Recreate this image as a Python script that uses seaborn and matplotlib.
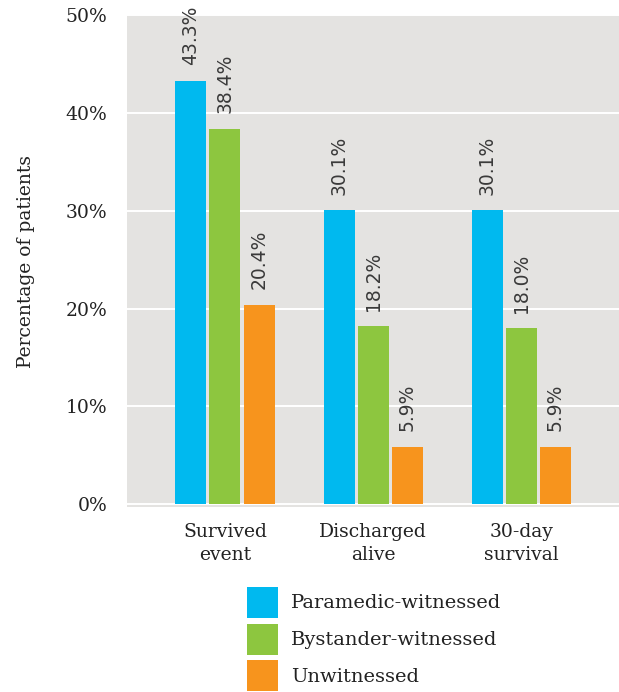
import matplotlib
matplotlib.use("Agg")
import matplotlib.pyplot as plt
from matplotlib.patches import Patch
import seaborn as sns
import pandas as pd

categories = ["Survived\nevent", "Discharged\nalive", "30-day\nsurvival"]
groups = ["Paramedic-witnessed", "Bystander-witnessed", "Unwitnessed"]
paramedic = [43.3, 30.1, 30.1]
bystander = [38.4, 18.2, 18.0]
unwitnessed = [20.4, 5.9, 5.9]
y_ticks = [0, 10, 20, 30, 40, 50]
colors = ["#00b9ef", "#8dc63f", "#f7941d"]

rows = []
for g, vals in zip(groups, [paramedic, bystander, unwitnessed]):
    for c, v in zip(categories, vals):
        rows.append({"category": c, "group": g, "value": v})
df = pd.DataFrame(rows)

sns.set_theme(style="darkgrid", rc={
    "axes.facecolor": "#e4e3e1",
    "grid.color": "white",
    "grid.linewidth": 1.4,
})
plt.rcParams["font.family"] = ["DejaVu Serif"]

fig = plt.figure(figsize=(6.19, 6.92), dpi=100)
ax = fig.add_axes([0.205, 0.267, 0.795, 0.711])

sns.barplot(data=df, x="category", y="value", hue="group", order=categories,
            hue_order=groups, palette=colors, width=0.69, gap=0.09,
            saturation=1, ax=ax, legend=False, errorbar=None, linewidth=0)

for cont in ax.containers:
    ax.bar_label(cont, fmt="%.1f%%", rotation=90, padding=11,
                 fontsize=13.5, color="#3a3a3a", family="DejaVu Sans")

ax.set_xlim(-0.662, 2.66)
ax.set_ylim(-0.3, 50)
ax.set_yticks(y_ticks)
ax.set_yticklabels([f"{t}%" for t in y_ticks], fontsize=13.5, color="#222222")
ax.tick_params(axis="x", labelsize=13.5, labelcolor="#222222", pad=11)
ax.tick_params(axis="both", length=0)
ax.tick_params(axis="y", pad=14)
for lbl in ax.get_xticklabels():
    lbl.set_linespacing(1.4)
ax.grid(axis="x", visible=False)
ax.set_xlabel("")
ax.set_ylabel("Percentage of patients", fontsize=13.5, color="#222222", labelpad=22)
for s in ax.spines.values():
    s.set_visible(False)

handles = [Patch(facecolor=c, edgecolor="none", label=g) for c, g in zip(colors, groups)]
fig.legend(handles=handles, loc="upper left", bbox_to_anchor=(0.399, 0.152),
           frameon=False, fontsize=14, handlelength=1.6, handleheight=2.07,
           handletextpad=0.65, labelspacing=0.3, borderaxespad=0, borderpad=0,
           labelcolor="#222222")

fig.savefig("out.png", dpi=100, facecolor="white")
